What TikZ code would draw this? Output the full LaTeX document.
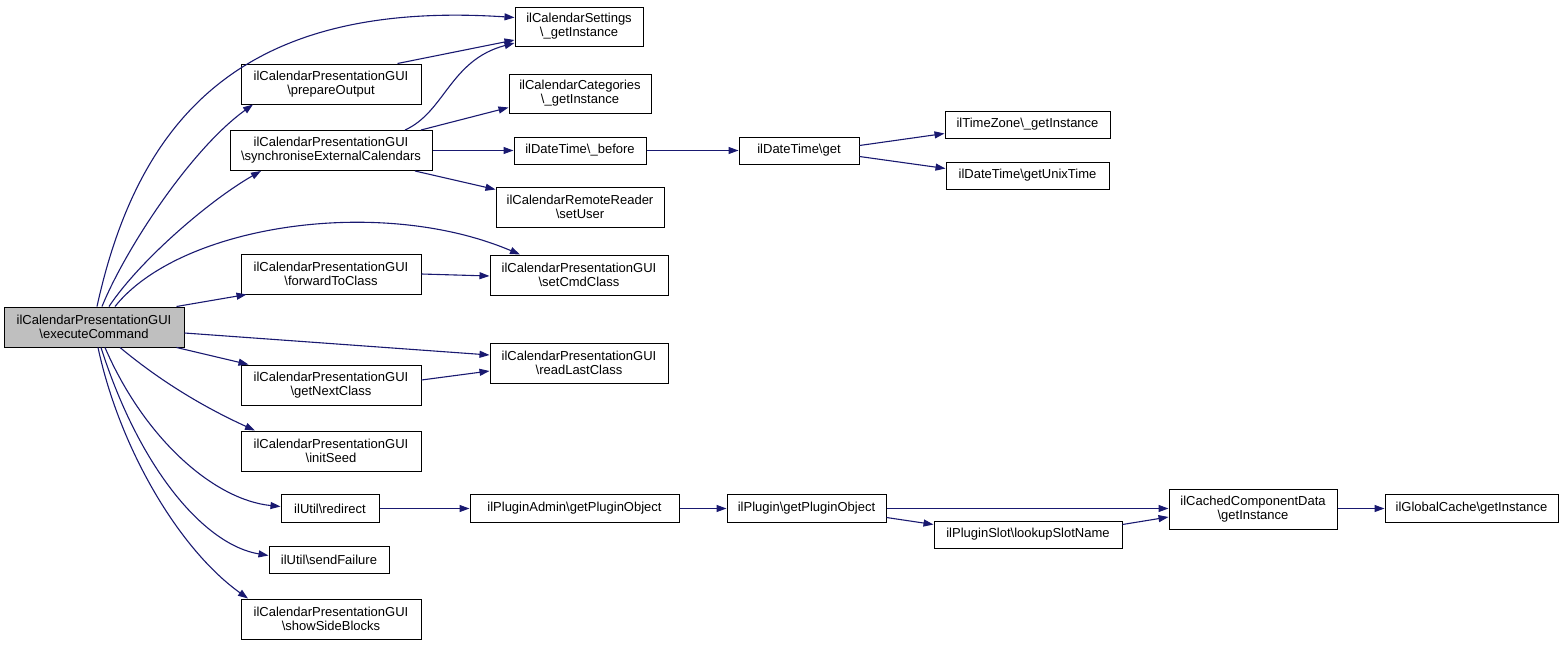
\documentclass[tikz,border=0pt]{standalone}
\usepackage{fontspec}
\setmainfont{Liberation Sans}
\usetikzlibrary{arrows.meta}
\definecolor{edgeblue}{HTML}{191970}
\definecolor{hlgray}{HTML}{BFBFBF}
\newcommand{\bs}{\textbackslash}
\begin{document}
\begin{tikzpicture}[x=1pt,y=-1pt,
  box/.style={draw=black,line width=1pt,fill=white,inner sep=0pt,align=center,
    font=\fontsize{13}{14}\selectfont},
  edge/.style={draw=edgeblue,line width=1.1pt,-{Triangle[length=10pt,width=7pt]}}]
\useasboundingbox (0,0) rectangle (1565,645);
% nodes
\node[box,fill=hlgray,minimum width=180pt,minimum height=40pt] (exec) at (94,327) {ilCalendarPresentationGUI\\\bs executeCommand};
\node[box,minimum width=180pt,minimum height=40pt] (prep) at (331,84) {ilCalendarPresentationGUI\\\bs prepareOutput};
\node[box,minimum width=202pt,minimum height=40pt] (sync) at (331,150.5) {ilCalendarPresentationGUI\\\bs synchroniseExternalCalendars};
\node[box,minimum width=180pt,minimum height=40pt] (fwd) at (331,274) {ilCalendarPresentationGUI\\\bs forwardToClass};
\node[box,minimum width=180pt,minimum height=40pt] (next) at (331,385) {ilCalendarPresentationGUI\\\bs getNextClass};
\node[box,minimum width=180pt,minimum height=40pt] (seed) at (331,451) {ilCalendarPresentationGUI\\\bs initSeed};
\node[box,minimum width=98pt,minimum height=28pt] (redir) at (330,508.5) {ilUtil\bs redirect};
\node[box,minimum width=120pt,minimum height=27pt] (fail) at (329,559.5) {ilUtil\bs sendFailure};
\node[box,minimum width=180pt,minimum height=40pt] (side) at (331,619) {ilCalendarPresentationGUI\\\bs showSideBlocks};
\node[box,minimum width=128pt,minimum height=39pt] (cset) at (579,26.5) {ilCalendarSettings\\\bs\_getInstance};
\node[box,minimum width=142pt,minimum height=39pt] (ccat) at (580,93.5) {ilCalendarCategories\\\bs\_getInstance};
\node[box,minimum width=132pt,minimum height=27pt] (before) at (580,150.5) {ilDateTime\bs\_before};
\node[box,minimum width=168pt,minimum height=40pt] (remote) at (580,207) {ilCalendarRemoteReader\\\bs setUser};
\node[box,minimum width=178pt,minimum height=40pt] (setcmd) at (579,275) {ilCalendarPresentationGUI\\\bs setCmdClass};
\node[box,minimum width=178pt,minimum height=40pt] (readlast) at (579,363) {ilCalendarPresentationGUI\\\bs readLastClass};
\node[box,minimum width=209pt,minimum height=28pt] (padmin) at (574.5,508.5) {ilPluginAdmin\bs getPluginObject};
\node[box,minimum width=120pt,minimum height=27pt] (dtget) at (799,150.5) {ilDateTime\bs get};
\node[box,minimum width=165pt,minimum height=27pt] (tz) at (1027.5,124.5) {ilTimeZone\bs\_getInstance};
\node[box,minimum width=163pt,minimum height=27pt] (unix) at (1027.5,175.5) {ilDateTime\bs getUnixTime};
\node[box,minimum width=159pt,minimum height=28pt] (plugin) at (806.5,508.5) {ilPlugin\bs getPluginObject};
\node[box,minimum width=188pt,minimum height=27pt] (slot) at (1028,534.5) {ilPluginSlot\bs lookupSlotName};
\node[box,minimum width=168pt,minimum height=40pt] (cached) at (1253,509) {ilCachedComponentData\\\bs getInstance};
\node[box,minimum width=173pt,minimum height=28pt] (gcache) at (1471.5,508.5) {ilGlobalCache\bs getInstance};
% edges from executeCommand
\draw[edge] ([xshift=3pt]exec.north) .. controls (140,110) and (250,0) .. ([yshift=9pt]cset.west);
\draw[edge] ([xshift=8pt]exec.north) .. controls (125,250) and (190,150) .. ([xshift=-78pt]prep.south);
\draw[edge] ([xshift=15pt]exec.north) .. controls (140,260) and (210,200) .. ([xshift=-70pt]sync.south);
\draw[edge] ([xshift=21pt]exec.north) .. controls (180,225) and (380,195) .. ([xshift=-59pt]setcmd.north);
\draw[edge] ([xshift=-8pt]exec.north east) -- ([xshift=6pt]fwd.south west);
\draw[edge] ([yshift=-6pt]exec.east) -- ([yshift=8pt]readlast.west);
\draw[edge] ([xshift=-8pt]exec.south east) -- ([xshift=8pt]next.north west);
\draw[edge] ([xshift=26pt]exec.south) .. controls (165,385) and (210,410) .. ([xshift=-76pt]seed.north);
\draw[edge] ([xshift=11pt]exec.south) .. controls (145,440) and (215,500) .. ([yshift=2pt]redir.west);
\draw[edge] ([xshift=7pt]exec.south) .. controls (140,470) and (205,545) .. ([yshift=4pt]fail.west);
\draw[edge] ([xshift=4pt]exec.south) .. controls (120,450) and (180,550) .. ([xshift=-83pt]side.north);
% other edges
\draw[edge] ([xshift=-24pt]prep.north east) -- ([yshift=-13.5pt]cset.west);
\draw[edge] ([xshift=74pt]sync.north) .. controls (445,112) and (450,60) .. ([yshift=-16.5pt]cset.west);
\draw[edge] ([xshift=90pt]sync.north) -- ([yshift=-14pt]ccat.west);
\draw[edge] (sync.east) -- (sync.east -| before.west);
\draw[edge] ([xshift=84pt]sync.south) -- ([yshift=-3pt]remote.north west);
\draw[edge] (fwd.east) -- ([yshift=-1pt]setcmd.west);
\draw[edge] ([yshift=5pt]next.east) -- ([yshift=-8pt]readlast.west);
\draw[edge] (before.east) -- (dtget.west);
\draw[edge] ([yshift=5pt]dtget.east) -- ([yshift=-9pt]tz.west);
\draw[edge] ([yshift=-6pt]dtget.east) -- ([yshift=7pt]unix.west);
\draw[edge] (redir.east) -- (padmin.west);
\draw[edge] (padmin.east) -- (plugin.west);
\draw[edge] (plugin.east) -- (plugin.east -| cached.west);
\draw[edge] ([yshift=-9pt]plugin.east) -- ([yshift=10pt]slot.west);
\draw[edge] ([yshift=10pt]slot.east) -- ([yshift=-8pt]cached.west);
\draw[edge] (cached.east |- gcache.west) -- (gcache.west);
\end{tikzpicture}
\end{document}
